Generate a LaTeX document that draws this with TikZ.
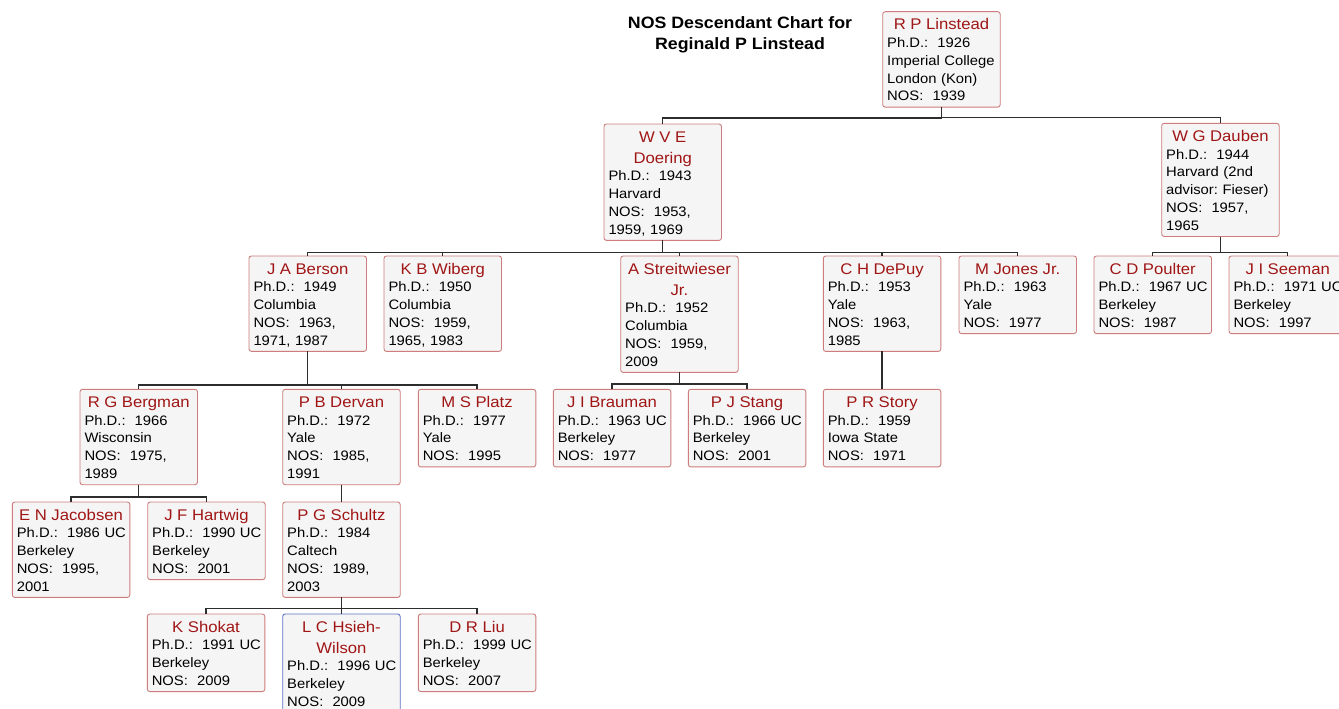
\documentclass[tikz,border=0pt]{standalone}
\usepackage{fontspec}
\setmainfont{Liberation Sans}[FakeStretch=1.08]
\definecolor{boxred}{RGB}{205,125,125}
\definecolor{boxblue}{RGB}{95,115,200}
\definecolor{boxfill}{RGB}{245,245,245}
\definecolor{namered}{RGB}{160,22,22}
\definecolor{linegray}{RGB}{45,45,45}
\newcommand\bodyfont{\fontsize{13.7pt}{17.8pt}\selectfont\parindent=0pt\relax}
\newcommand\namefont{\fontsize{15.45pt}{21pt}\selectfont\color{namered}}
\newcommand\titlefont{\fontsize{16.45pt}{21pt}\selectfont\bfseries}
\newcommand\pp[2]{{\namefont\centering\rule{0pt}{18pt}#1\par}#2\rule[-6.2pt]{0pt}{6.2pt}}
\tikzset{
  pbox/.style={draw=boxred, fill=boxfill, rounded corners=2.5pt, line width=0.9pt,
    anchor=north west, outer sep=0pt, text width=108.5pt, inner xsep=4.5pt,
    inner ysep=0pt, align=left, font=\bodyfont},
  bluebox/.style={pbox, draw=boxblue},
  conn/.style={draw=linegray, line width=1.2pt},
  titlenode/.style={anchor=north, inner sep=0pt, align=center, font=\titlefont}
}
\begin{document}
\begin{tikzpicture}[x=1pt,y=-1pt]
\useasboundingbox (0,0) rectangle (1339,709);
\clip (0,0) rectangle (1339,709);
\fill[white] (0,0) rectangle (1339,709);

\node[titlenode] (title) at (740,16.3) {\rule{0pt}{12pt}NOS Descendant Chart for\\Reginald P Linstead};

\node[pbox] (linstead) at (882.7,11.7) {\pp{R P Linstead}{Ph.D.:~~1926\\Imperial~College\\London~(Kon)\\NOS:~~1939}};
\node[pbox] (doering) at (604,124) {\pp{W V E\\Doering}{Ph.D.:~~1943\\Harvard\\NOS:~~1953,\\1959,~1969}};
\node[pbox] (dauben) at (1161.7,123.3) {\pp{W G Dauben}{Ph.D.:~~1944\\Harvard~(2nd\\advisor:~Fieser)\\NOS:~~1957,\\1965}};

\node[pbox] (berson) at (249,256) {\pp{J A Berson}{Ph.D.:~~1949\\Columbia\\NOS:~~1963,\\1971,~1987}};
\node[pbox] (wiberg) at (384,256) {\pp{K B Wiberg}{Ph.D.:~~1950\\Columbia\\NOS:~~1959,\\1965,~1983}};
\node[pbox] (streit) at (620.7,256) {\pp{A Streitwieser\\Jr.}{Ph.D.:~~1952\\Columbia\\NOS:~~1959,\\2009}};
\node[pbox] (depuy) at (823.3,256) {\pp{C H DePuy}{Ph.D.:~~1953\\Yale\\NOS:~~1963,\\1985}};
\node[pbox] (jones) at (959,256) {\pp{M Jones Jr.}{Ph.D.:~~1963\\Yale\\NOS:~~1977}};
\node[pbox] (poulter) at (1094,256) {\pp{C D Poulter}{Ph.D.:~~1967~UC\\Berkeley\\NOS:~~1987}};
\node[pbox] (seeman) at (1229,256) {\pp{J I Seeman}{Ph.D.:~~1971~UC\\Berkeley\\NOS:~~1997}};

\node[pbox] (bergman) at (80,389.3) {\pp{R G Bergman}{Ph.D.:~~1966\\Wisconsin\\NOS:~~1975,\\1989}};
\node[pbox] (dervan) at (282.7,389.3) {\pp{P B Dervan}{Ph.D.:~~1972\\Yale\\NOS:~~1985,\\1991}};
\node[pbox] (platz) at (418.3,389.3) {\pp{M S Platz}{Ph.D.:~~1977\\Yale\\NOS:~~1995}};
\node[pbox] (brauman) at (553.3,389.3) {\pp{J I Brauman}{Ph.D.:~~1963~UC\\Berkeley\\NOS:~~1977}};
\node[pbox] (stang) at (688.3,389.3) {\pp{P J Stang}{Ph.D.:~~1966~UC\\Berkeley\\NOS:~~2001}};
\node[pbox] (story) at (823.3,389.3) {\pp{P R Story}{Ph.D.:~~1959\\Iowa~State\\NOS:~~1971}};

\node[pbox] (jacobsen) at (12.3,502) {\pp{E N Jacobsen}{Ph.D.:~~1986~UC\\Berkeley\\NOS:~~1995,\\2001}};
\node[pbox] (hartwig) at (147.7,502) {\pp{J F Hartwig}{Ph.D.:~~1990~UC\\Berkeley\\NOS:~~2001}};
\node[pbox] (schultz) at (282.7,502) {\pp{P G Schultz}{Ph.D.:~~1984\\Caltech\\NOS:~~1989,\\2003}};

\node[pbox] (shokat) at (147.3,614) {\pp{K Shokat}{Ph.D.:~~1991~UC\\Berkeley\\NOS:~~2009}};
\node[bluebox] (hsieh) at (282.7,614) {\pp{L C Hsieh-\\Wilson}{Ph.D.:~~1996~UC\\Berkeley\\NOS:~~2009}};
\node[pbox] (liu) at (418.3,614) {\pp{D R Liu}{Ph.D.:~~1999~UC\\Berkeley\\NOS:~~2007}};

% connectors
\foreach \c in {doering,dauben}
  \draw[conn] (linstead.south) |- ([yshift=6pt]\c.north) -- (\c.north);
\foreach \c in {berson,wiberg,streit,depuy,jones}
  \draw[conn] (doering.south) |- ([yshift=3.8pt]\c.north) -- (\c.north);
\foreach \c in {poulter,seeman}
  \draw[conn] (dauben.south) |- ([yshift=3.2pt]\c.north) -- (\c.north);
\foreach \c in {bergman,dervan,platz}
  \draw[conn] (berson.south) |- ([yshift=4.3pt]\c.north) -- (\c.north);
\foreach \c in {brauman,stang}
  \draw[conn] (streit.south) |- ([yshift=5.3pt]\c.north) -- (\c.north);
\draw[conn] (depuy.south) -- (story.north);
\foreach \c in {jacobsen,hartwig}
  \draw[conn] (bergman.south) |- ([yshift=5pt]\c.north) -- (\c.north);
\draw[conn] (dervan.south) -- (schultz.north);
\foreach \c in {shokat,hsieh,liu}
  \draw[conn] (schultz.south) |- ([yshift=5.5pt]\c.north) -- (\c.north);
\end{tikzpicture}
\end{document}
